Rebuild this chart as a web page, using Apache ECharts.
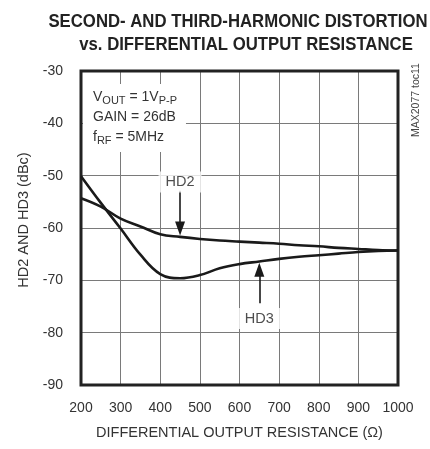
<!DOCTYPE html>
<html>
<head>
<meta charset="utf-8">
<script src="https://cdn.jsdelivr.net/npm/echarts@6/dist/echarts.min.js"></script>
<style>
  html, body { margin: 0; padding: 0; background: #fff; }
  #chart { width: 430px; height: 449px; }
</style>
</head>
<body>
<div id="chart"></div>
<script>
// resistance (ohm) on x, distortion (dBc) on y
const resistance = [200, 250, 300, 350, 400, 450, 500, 550, 600, 650, 700, 750, 800, 850, 900, 950, 1000]
const hd2 = [-54.3, -55.9, -58.2, -59.7, -61.2, -61.7, -62.1, -62.4, -62.6, -62.8, -63.0, -63.3, -63.5, -63.8, -64.0, -64.2, -64.3]
const hd3 = [-50.1, -55.2, -60.1, -65.1, -68.8, -69.6, -69.0, -67.7, -66.9, -66.4, -65.9, -65.5, -65.2, -64.9, -64.6, -64.4, -64.3]

const xTicks = { min: 200, max: 1000, step: 100 }
const yTicks = { min: -90, max: -30, step: 10 }

// curve labels and their arrows: [label x, label y, arrow from y, arrow to y]
const hd2Label = [450, -51.2, -52.9, -60.1]
const hd3Label = [650, -77.3, -74.4, -68.0]

const FONT = 'Liberation Sans, Arial, sans-serif'
const chart = echarts.init(document.getElementById('chart'), null, { renderer: 'canvas' })

const pairs = arr => resistance.map((r, i) => [r, arr[i]])

const curve = (name, arr) => ({
  name,
  type: 'line',
  data: pairs(arr),
  smooth: 0.4,
  symbol: 'none',
  lineStyle: { color: '#1a1a1a', width: 2.6 },
  z: 5
})

const arrowLine = (lbl) => ({
  symbol: ['none', 'triangle'],
  symbolSize: [10, 14],
  silent: true,
  label: { show: false },
  lineStyle: { color: '#1a1a1a', width: 1.6, type: 'solid' },
  itemStyle: { color: '#1a1a1a' },
  data: [[{ coord: [lbl[0], lbl[2]] }, { coord: [lbl[0], lbl[3]] }]]
})

const titleLine = (text, x, y) => ({
  type: 'text',
  x, y,
  scaleX: 0.93,
  style: {
    text, fontFamily: FONT, fontSize: 18, fontWeight: 'bold', fill: '#222',
    textAlign: 'center', textVerticalAlign: 'middle'
  }
})

chart.setOption({
  animation: false,
  backgroundColor: '#fff',
  grid: {
    left: 81, right: 32, top: 71, bottom: 64,
    show: true, borderColor: '#222', borderWidth: 3, backgroundColor: 'transparent', z: 3
  },
  xAxis: {
    type: 'value',
    min: xTicks.min, max: xTicks.max, interval: xTicks.step,
    name: 'DIFFERENTIAL OUTPUT RESISTANCE (Ω)',
    nameLocation: 'middle', nameGap: 40,
    nameTextStyle: { fontFamily: FONT, fontSize: 14.5, color: '#333' },
    axisLine: { show: false }, axisTick: { show: false },
    axisLabel: { fontFamily: FONT, fontSize: 14, color: '#333', margin: 16, formatter: v => String(v) },
    splitLine: { show: true, lineStyle: { color: '#7a7a7a', width: 1 } }
  },
  yAxis: {
    type: 'value',
    min: yTicks.min, max: yTicks.max, interval: yTicks.step,
    name: 'HD2 AND HD3 (dBc)',
    nameLocation: 'middle', nameGap: 49,
    nameTextStyle: { fontFamily: FONT, fontSize: 14.5, color: '#333', padding: [0, 0, 0, 16] },
    axisLine: { show: false }, axisTick: { show: false },
    axisLabel: { fontFamily: FONT, fontSize: 14, color: '#333', margin: 18 },
    splitLine: { show: true, lineStyle: { color: '#7a7a7a', width: 1 } }
  },
  graphic: [
    titleLine('SECOND- AND THIRD-HARMONIC DISTORTION', 238, 22.5),
    titleLine('vs. DIFFERENTIAL OUTPUT RESISTANCE', 246, 45.5),
    {
      type: 'text',
      left: 83, top: 84, z: 10,
      style: {
        text: '{m|V}{s|OUT}{m| = 1V}{s|P-P}\n{m|GAIN = 26dB}\n{m|f}{s|RF}{m| = 5MHz}',
        backgroundColor: '#fff',
        padding: [3, 9, 5, 10],
        rich: {
          m: { fontFamily: FONT, fontSize: 14, fill: '#333', lineHeight: 20 },
          s: { fontFamily: FONT, fontSize: 11, fill: '#333', lineHeight: 20, padding: [7, 0, 0, 0] }
        }
      }
    },
    {
      type: 'text',
      x: 411, y: 137, rotation: Math.PI / 2, z: 10,
      style: { text: 'MAX2077 toc11', fontFamily: FONT, fontSize: 10.5, fill: '#444', textAlign: 'left', textVerticalAlign: 'top' }
    }
  ],
  series: [
    curve('HD2', hd2),
    curve('HD3', hd3),
    {
      type: 'scatter',
      symbolSize: 0,
      silent: true,
      z: 10,
      data: [
        { value: [hd2Label[0], hd2Label[1]], name: 'HD2' },
        { value: [hd3Label[0], hd3Label[1]], name: 'HD3' }
      ],
      label: {
        show: true, position: 'inside', formatter: '{b}',
        fontFamily: FONT, fontSize: 14.5, color: '#222',
        backgroundColor: '#fff', padding: [3, 7]
      },
      markLine: arrowLine(hd2Label)
    },
    {
      type: 'scatter',
      symbolSize: 0,
      silent: true,
      data: [],
      markLine: arrowLine(hd3Label)
    }
  ]
})
</script>
</body>
</html>
